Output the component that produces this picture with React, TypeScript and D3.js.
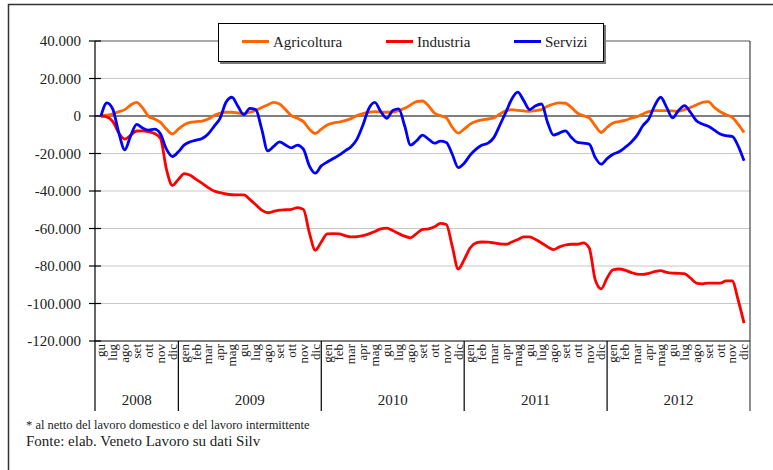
import React from 'react';
import * as d3 from 'd3';

const years = ['2008', '2009', '2010', '2011', '2012'];
const monthsPerYear = [7, 12, 12, 12, 12];
const monthNames = ['gen', 'feb', 'mar', 'apr', 'mag', 'gu', 'lug', 'ago', 'set', 'ott', 'nov', 'dic'];
const yTicks = [40000, 20000, 0, -20000, -40000, -60000, -80000, -100000, -120000];
const seriesNames = ['Agricoltura', 'Industria', 'Servizi'];
const seriesColors = ['#FF6600', '#FF0000', '#0000FF'];

// values sampled every half month, from giugno 2008 to dicembre 2012
const agricoltura = [
  0, 400, 1100, 2300, 3400, 5900, 7300, 4300, -200, -1600, -3400, -7000, -9600,
  -7000, -4600, -3400, -3000, -2700, -1600, 200, 1600, 2000, 2000, 1600, 1250, 2000,
  2900, 4500, 5900, 7300, 6400, 3400, 200, -1250, -3000, -7000, -9300, -7000, -4800,
  -3750, -3200, -2500, -1400, 200, 1250, 2000, 2300, 2100, 2000, 2100, 2900, 4100,
  5900, 7700, 8000, 5500, 1600, 200, -1000, -6000, -9100, -7000, -4300, -2900, -2100,
  -1600, -900, 1100, 2700, 3400, 3000, 2700, 2500, 2900, 3400, 5200, 6400, 7000,
  6800, 4600, 1600, 200, -1000, -5200, -8800, -6000, -3750, -3000, -2300, -1250, -350,
  1100, 2300, 2900, 2900, 2900, 2700, 2500, 3400, 4500, 5900, 7300, 7700, 4600, 2300,
  700, -700, -4300, -8800,
];
const industria = [
  0, -500, -3000, -9100, -12300, -10200, -8000, -7900, -8400, -9300, -12000, -28400, -37000,
  -33800, -30700, -31600, -33800, -35900, -38200, -40000, -40900, -41600, -42000, -42100, -42100, -44500,
  -47300, -50200, -51600, -50900, -50200, -50000, -49800, -48900, -49800, -62300, -71600, -67200, -62900,
  -62700, -62900, -63800, -64500, -64300, -63800, -62900, -61600, -60200, -59800, -61100, -62700, -64100,
  -65000, -62700, -60500, -60200, -59100, -57300, -57900, -69500, -81600, -76600, -70400, -67700, -67200,
  -67300, -67700, -68200, -68400, -67200, -65900, -64500, -64500, -65900, -67700, -69800, -71300, -69800,
  -68800, -68400, -68400, -67700, -70400, -87300, -92200, -86400, -82000, -81600, -82200, -83400, -84300,
  -84500, -83900, -83000, -82500, -83400, -83800, -83900, -84100, -86400, -89100, -89500, -89100, -89100,
  -89100, -87900, -87900, -98000, -110500,
];
const servizi = [
  0, 7000, 3500, -9000, -18000, -10500, -4500, -6400, -7500, -7000, -9600, -17700, -21600,
  -19100, -15400, -13750, -12860, -12000, -9600, -5500, -1250, 7300, 10000, 5200, 700, 4100,
  3400, -7000, -18600, -16250, -13750, -15500, -17000, -15500, -17700, -26600, -30500, -26600, -24500,
  -22700, -20900, -18600, -16400, -12300, -4800, 4100, 7300, 2300, -1250, 2900, 3750, -5200,
  -15500, -13200, -10200, -12300, -14500, -13400, -14100, -20400, -27500, -25200, -20900, -17700, -15500,
  -14500, -11400, -4800, 2000, 9100, 12700, 8200, 3400, 5500, 6400, -3400, -10200, -9100,
  -7900, -11400, -14100, -14500, -15000, -22100, -25700, -22700, -20400, -19100, -16800, -14100, -10500,
  -5200, -1600, 5500, 10000, 4600, -1000, 2900, 5500, 2000, -2500, -4300, -5500, -7500,
  -9600, -10500, -10900, -15900, -23900,
];
const footnote = '* al netto del lavoro domestico e del lavoro intermittente';
const source = 'Fonte: elab. Veneto Lavoro su dati Silv';

const FONT = '"Liberation Serif", "Times New Roman", serif';

export default function App() {
  const W = 773;
  const H = 470;
  const left = 95;
  const right = 750;
  const top = 41;
  const bottom = 341;
  const catBottom = 411;

  const categories: { label: string; yearIdx: number }[] = [];
  years.forEach((yr, i) => {
    const n = monthsPerYear[i];
    monthNames.slice(12 - n).forEach((m) => categories.push({ label: m, yearIdx: i }));
  });
  const nCat = categories.length;

  const x = d3.scaleLinear().domain([-0.5, nCat - 0.5]).range([left, right]);
  const y = d3.scaleLinear().domain([-120000, 40000]).range([bottom, top]);

  const locale = d3.formatLocale({ decimal: ',', thousands: '.', grouping: [3], currency: ['', '€'], minus: '-' });
  const fmt = locale.format(',');

  const line = d3
    .line<number>()
    .x((_, i) => x(i / 2))
    .y((d) => y(d))
    .curve(d3.curveMonotoneX);

  const series = [agricoltura, industria, servizi];

  const boundaries: number[] = [];
  let acc = 0;
  monthsPerYear.forEach((n) => {
    boundaries.push(acc);
    acc += n;
  });

  const legendX = [242, 386, 514];

  return (
    <svg
      width={W}
      height={H}
      style={{ position: 'absolute', left: 0, top: 0, background: '#fff' }}
      fontFamily={FONT}
    >
      <rect x={0} y={0} width={W} height={H} fill="#fff" />
      <rect x={8.5} y={4.5} width={W + 20} height={H + 20} fill="none" stroke="#333" strokeWidth={1.5} />

      {yTicks.map((t) =>
        t !== 0 && t !== -120000 && t !== 40000 ? (
          <line key={'g' + t} x1={left} x2={right} y1={y(t)} y2={y(t)} stroke="#c8c8c8" strokeWidth={1.2} />
        ) : null
      )}
      <line x1={left} x2={right} y1={top} y2={top} stroke="#555" strokeWidth={1.2} />
      <line x1={left} x2={right} y1={bottom} y2={bottom} stroke="#555" strokeWidth={1.5} />
      <line x1={left} x2={right} y1={y(0)} y2={y(0)} stroke="#000" strokeWidth={1} />
      <line x1={right} x2={right} y1={top} y2={catBottom} stroke="#444" strokeWidth={1.2} />
      <line x1={left} x2={left} y1={top} y2={catBottom} stroke="#000" strokeWidth={1.2} />

      {yTicks.map((t) => (
        <g key={'t' + t}>
          <line x1={89} x2={101} y1={y(t)} y2={y(t)} stroke="#000" strokeWidth={1.2} />
          <text x={81} y={y(t)} dy="0.35em" textAnchor="end" fontSize={15} fill="#222">
            {fmt(t)}
          </text>
        </g>
      ))}

      {categories.map((c, i) => (
        <text
          key={'m' + i}
          transform={`translate(${x(i)},${bottom + 3}) rotate(-90)`}
          textAnchor="end"
          dy="0.33em"
          fontSize={13}
          fill="#222"
        >
          {c.label}
        </text>
      ))}

      {boundaries.map((b, i) => (
        <g key={'y' + i}>
          {i > 0 && (
            <line x1={x(b - 0.5)} x2={x(b - 0.5)} y1={bottom} y2={catBottom} stroke="#000" strokeWidth={1.2} />
          )}
          <text
            x={(x(b - 0.5) + x(b + monthsPerYear[i] - 0.5)) / 2}
            y={405}
            textAnchor="middle"
            fontSize={15}
            fill="#222"
          >
            {years[i]}
          </text>
        </g>
      ))}

      {series.map((s, i) => (
        <path key={'s' + i} d={line(s) || ''} fill="none" stroke={seriesColors[i]} strokeWidth={2.8} strokeLinejoin="round" />
      ))}

      <rect x={220} y={25} width={386} height={39} fill="#777" />
      <rect x={218.5} y={23.5} width={385} height={38} fill="#fff" stroke="#000" strokeWidth={1} />
      {seriesNames.map((n, i) => (
        <g key={'l' + i}>
          <line x1={legendX[i]} x2={legendX[i] + 27} y1={41.5} y2={41.5} stroke={seriesColors[i]} strokeWidth={3} />
          <text x={legendX[i] + 31} y={47} fontSize={15} fill="#222">
            {n}
          </text>
        </g>
      ))}

      <text x={26} y={429} fontSize={12.5} fill="#222">
        {footnote}
      </text>
      <text x={26} y={446} fontSize={15} fill="#222">
        {source}
      </text>
    </svg>
  );
}
